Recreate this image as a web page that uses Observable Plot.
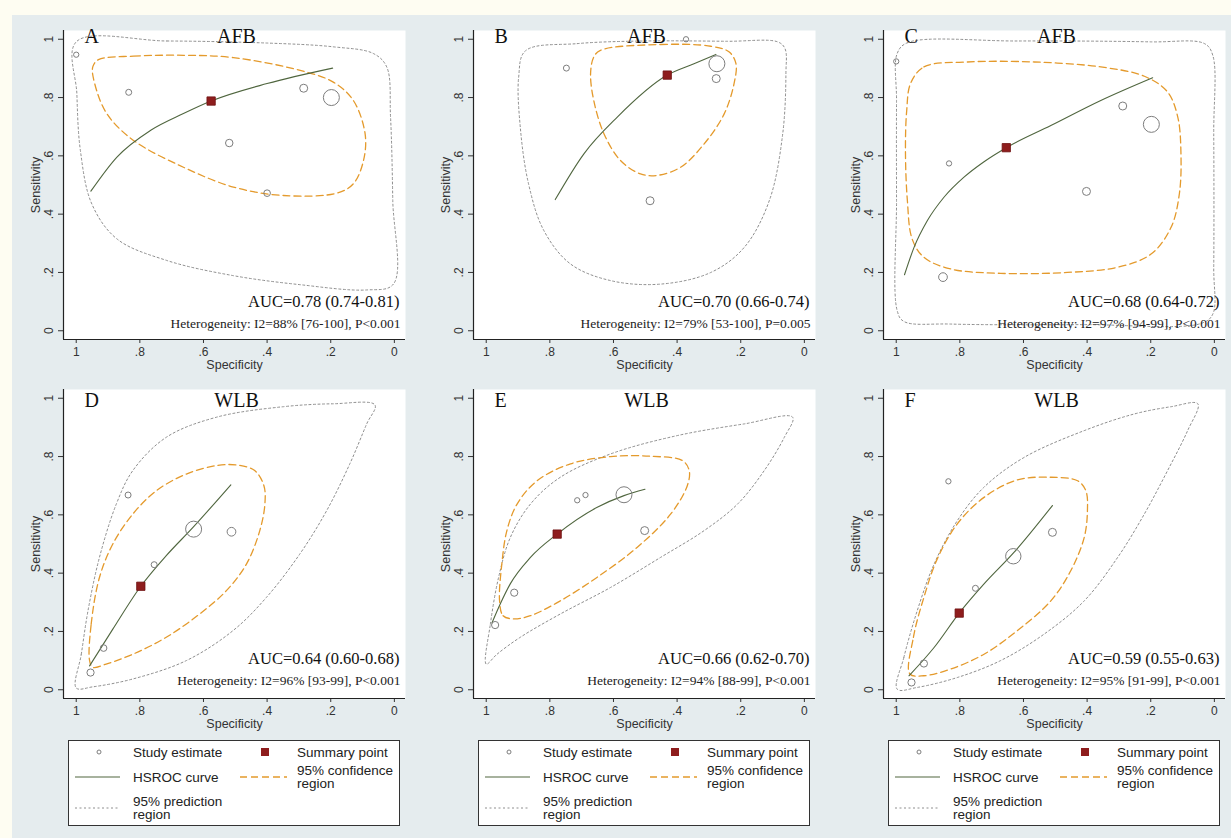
<!DOCTYPE html>
<html><head><meta charset="utf-8">
<script src="https://cdn.jsdelivr.net/npm/d3@7"></script>
<script src="https://cdn.jsdelivr.net/npm/@observablehq/plot@0.6"></script>
<style>
html,body{margin:0;padding:0;background:#fefdf2;}
#root{position:relative;width:1231px;height:838px;background:#fefdf2;overflow:hidden;}
#inner{position:absolute;left:12px;top:15px;right:0;bottom:0;background:#e5ecee;}
.panel{position:absolute;}
.legend{position:absolute;}
</style></head><body><div id="root"><div id="inner"></div></div>
<script>
// ---------- data: [specificity, sensitivity, weight] ----------
const panelLetters = ["A", "B", "C", "D", "E", "F"];
const panelTests = ["AFB", "AFB", "AFB", "WLB", "WLB", "WLB"];
const aucLabels = ["AUC=0.78 (0.74-0.81)", "AUC=0.70 (0.66-0.74)", "AUC=0.68 (0.64-0.72)",
                   "AUC=0.64 (0.60-0.68)", "AUC=0.66 (0.62-0.70)", "AUC=0.59 (0.55-0.63)"];
const hetLabels = ["Heterogeneity: I2=88% [76-100], P<0.001", "Heterogeneity: I2=79% [53-100], P=0.005",
                   "Heterogeneity: I2=97% [94-99], P<0.001", "Heterogeneity: I2=96% [93-99], P<0.001",
                   "Heterogeneity: I2=94% [88-99], P<0.001", "Heterogeneity: I2=95% [91-99], P<0.001"];
const tickValues = [0, 0.2, 0.4, 0.6, 0.8, 1];
const xAxisLabel = "Specificity";
const yAxisLabel = "Sensitivity";
const legendLabels = ["Study estimate", "Summary point", "HSROC curve", "95% confidence\nregion", "95% prediction\nregion"];

// Panel A
const studiesA = [[1.0,0.947,7],[0.835,0.818,9],[0.285,0.832,16],[0.198,0.80,64],[0.519,0.644,14],[0.40,0.472,11]];
const summaryA = [0.576,0.788];
const hsrocA = [[0.954,0.479],[0.872,0.596],[0.767,0.687],[0.663,0.745],[0.576,0.788],[0.40,0.848],[0.194,0.901]];
const confA = [[0.930,0.930],[0.820,0.942],[0.663,0.945],[0.506,0.937],[0.296,0.893],[0.192,0.853],[0.129,0.790],[0.092,0.676],[0.097,0.584],[0.129,0.504],[0.181,0.472],[0.349,0.464],[0.506,0.493],[0.663,0.561],[0.820,0.653],[0.904,0.745],[0.942,0.848],[0.948,0.905]];
const predA = [[1.0,0.991],[0.715,0.994],[0.401,0.987],[0.192,0.974],[0.066,0.951],[0.024,0.905],[0.012,0.733],[0.005,0.447],[0.003,0.160],[0.087,0.140],[0.296,0.158],[0.506,0.189],[0.715,0.241],[0.872,0.315],[0.951,0.435],[0.987,0.619],[0.998,0.813]];

// Panel B
const studiesB = [[0.748,0.901,9],[0.372,1.0,7],[0.275,0.916,64],[0.277,0.865,16],[0.485,0.446,16]];
const summaryB = [0.431,0.877];
const hsrocB = [[0.783,0.450],[0.693,0.607],[0.588,0.733],[0.431,0.877],[0.347,0.916],[0.278,0.948]];
const confB = [[0.641,0.962],[0.452,0.982],[0.294,0.976],[0.236,0.956],[0.215,0.916],[0.221,0.848],[0.252,0.744],[0.315,0.641],[0.389,0.561],[0.462,0.533],[0.515,0.538],[0.578,0.584],[0.630,0.676],[0.662,0.790],[0.672,0.882],[0.662,0.939]];
const predB = [[0.877,0.960],[0.714,0.985],[0.504,0.994],[0.242,0.993],[0.084,0.991],[0.061,0.968],[0.058,0.882],[0.068,0.676],[0.110,0.447],[0.189,0.286],[0.294,0.200],[0.452,0.160],[0.609,0.172],[0.735,0.229],[0.819,0.344],[0.867,0.504],[0.893,0.699],[0.898,0.871]];

// Panel C
const studiesC = [[1.0,0.924,7],[0.834,0.574,7],[0.853,0.184,19],[0.288,0.771,16],[0.198,0.708,64],[0.402,0.478,16]];
const summaryC = [0.654,0.628];
const hsrocC = [[0.974,0.192],[0.944,0.286],[0.902,0.378],[0.850,0.458],[0.787,0.527],[0.724,0.580],[0.654,0.628],[0.514,0.704],[0.357,0.790],[0.194,0.868]];
const confC = [[0.955,0.848],[0.913,0.905],[0.776,0.922],[0.567,0.922],[0.357,0.905],[0.220,0.873],[0.147,0.819],[0.115,0.733],[0.105,0.607],[0.110,0.470],[0.136,0.355],[0.199,0.263],[0.304,0.218],[0.462,0.200],[0.672,0.197],[0.829,0.212],[0.913,0.252],[0.950,0.315],[0.965,0.447],[0.971,0.619],[0.967,0.756]];
const predC = [[0.997,0.951],[0.965,0.988],[0.619,0.994],[0.199,0.991],[0.031,0.985],[0.005,0.945],[0.002,0.676],[0.002,0.218],[0.005,0.057],[0.042,0.025],[0.409,0.021],[0.829,0.023],[0.976,0.032],[0.997,0.069],[0.999,0.447],[0.999,0.790]];

// Panel D
const studiesD = [[0.837,0.668,9],[0.631,0.551,64],[0.512,0.542,19],[0.755,0.429,9],[0.914,0.143,11],[0.955,0.059,13]];
const summaryD = [0.797,0.355];
const hsrocD = [[0.958,0.082],[0.885,0.208],[0.797,0.355],[0.717,0.460],[0.633,0.557],[0.514,0.703]];
const confD = [[0.958,0.100],[0.953,0.225],[0.927,0.385],[0.885,0.500],[0.822,0.603],[0.748,0.683],[0.654,0.740],[0.559,0.769],[0.496,0.771],[0.439,0.752],[0.410,0.700],[0.407,0.637],[0.423,0.546],[0.465,0.431],[0.528,0.340],[0.612,0.260],[0.717,0.180],[0.822,0.122],[0.906,0.088],[0.948,0.077]];
const predD = [[1.0,0.006],[0.984,0.122],[0.963,0.271],[0.927,0.454],[0.874,0.637],[0.822,0.752],[0.717,0.866],[0.559,0.935],[0.349,0.971],[0.192,0.981],[0.061,0.977],[0.087,0.912],[0.140,0.775],[0.213,0.614],[0.297,0.466],[0.402,0.317],[0.507,0.203],[0.654,0.100],[0.822,0.037],[0.948,0.010]];

// Panel E
const studiesE = [[0.714,0.650,7],[0.688,0.668,7],[0.567,0.669,64],[0.502,0.546,16],[0.912,0.333,13],[0.972,0.222,13]];
const summaryE = [0.777,0.534];
const hsrocE = [[0.982,0.229],[0.956,0.294],[0.924,0.364],[0.861,0.454],[0.777,0.534],[0.651,0.626],[0.567,0.666],[0.501,0.688]];
const confE = [[0.958,0.305],[0.947,0.254],[0.914,0.243],[0.861,0.254],[0.767,0.305],[0.651,0.386],[0.525,0.489],[0.420,0.603],[0.368,0.700],[0.362,0.752],[0.383,0.786],[0.483,0.801],[0.609,0.800],[0.735,0.775],[0.840,0.717],[0.903,0.637],[0.935,0.546],[0.951,0.431]];
const predE = [[1.0,0.088],[0.987,0.225],[0.961,0.386],[0.924,0.523],[0.861,0.637],[0.767,0.729],[0.609,0.809],[0.399,0.872],[0.189,0.912],[0.037,0.935],[0.063,0.866],[0.126,0.752],[0.210,0.637],[0.315,0.546],[0.452,0.454],[0.609,0.351],[0.767,0.260],[0.893,0.180],[0.966,0.122]];

// Panel F
const studiesF = [[0.836,0.715,7],[0.509,0.540,16],[0.632,0.458,59],[0.751,0.348,9],[0.913,0.090,13],[0.952,0.025,13]];
const summaryF = [0.802,0.263];
const hsrocF = [[0.960,0.048],[0.881,0.145],[0.802,0.263],[0.724,0.363],[0.630,0.471],[0.509,0.632]];
const confF = [[0.957,0.054],[0.946,0.180],[0.913,0.317],[0.871,0.449],[0.808,0.569],[0.724,0.660],[0.619,0.720],[0.514,0.729],[0.430,0.717],[0.404,0.683],[0.399,0.614],[0.409,0.523],[0.451,0.409],[0.514,0.305],[0.619,0.203],[0.724,0.122],[0.829,0.071],[0.913,0.048]];
const predF = [[0.997,0.002],[0.976,0.111],[0.934,0.271],[0.881,0.431],[0.808,0.580],[0.724,0.695],[0.598,0.797],[0.409,0.889],[0.252,0.946],[0.136,0.971],[0.052,0.981],[0.084,0.889],[0.147,0.752],[0.220,0.603],[0.304,0.454],[0.409,0.305],[0.535,0.191],[0.672,0.100],[0.808,0.042],[0.934,0.008]];

// ---------- assemble ----------
const panels = [
  {studies: studiesA, summary: summaryA, hsroc: hsrocA, conf: confA, pred: predA},
  {studies: studiesB, summary: summaryB, hsroc: hsrocB, conf: confB, pred: predB},
  {studies: studiesC, summary: summaryC, hsroc: hsrocC, conf: confC, pred: predC},
  {studies: studiesD, summary: summaryD, hsroc: hsrocD, conf: confD, pred: predD},
  {studies: studiesE, summary: summaryE, hsroc: hsrocE, conf: confE, pred: predE},
  {studies: studiesF, summary: summaryF, hsroc: hsrocF, conf: confF, pred: predF}
].map((p, i) => ({...p, letter: panelLetters[i], test: panelTests[i], auc: aucLabels[i], het: hetLabels[i]}));

const COL = {pred: "#8e8e8e", conf: "#e49a2c", hsroc: "#50663f", study: "#7d7d7d", summary: "#8e1d1d"};
const SERIF = "'Liberation Serif','Times New Roman',serif";
const SANS = "'Liberation Sans',Arial,sans-serif";
const fmt = d => d === 0 ? "0" : d === 1 ? "1" : d3.format(".1f")(d).replace(/^0/, "");
const X0 = 1.04, X1 = -0.035, Y0 = -0.03, Y1 = 1.03;
const px = d => d[0], py = d => d[1];

function panelPlot(p, row) {
  const titleDy = row === 0 ? 12 : 17;
  return Plot.plot({
    width: 400, height: 355,
    marginLeft: 53, marginRight: 5, marginTop: 10, marginBottom: 36,
    style: {background: "transparent", fontFamily: SANS, fontSize: "12px", color: "#333", overflow: "visible"},
    x: {domain: [X0, X1]},
    y: {domain: [Y0, Y1]},
    r: {type: "sqrt", domain: [0, 64], range: [0, 8]},
    marks: [
      Plot.frame({fill: "white", stroke: "none"}),
      Plot.line(p.pred, {x: px, y: py, curve: "catmull-rom-closed", stroke: COL.pred, strokeWidth: 1, strokeDasharray: "2,2.5"}),
      Plot.line(p.conf, {x: px, y: py, curve: "catmull-rom-closed", stroke: COL.conf, strokeWidth: 1.3, strokeDasharray: "7,4"}),
      Plot.line(p.hsroc, {x: px, y: py, curve: "monotone-x", stroke: COL.hsroc, strokeWidth: 1.1}),
      Plot.dot(p.studies, {x: px, y: py, r: d => d[2], stroke: COL.study, fill: "none", strokeWidth: 1}),
      Plot.dot([p.summary], {x: px, y: py, symbol: "square", r: 4.7, fill: COL.summary, stroke: "#6e1212", strokeWidth: 0.8}),
      Plot.axisX({ticks: tickValues, tickFormat: fmt, tickSize: 4, tickPadding: 4, label: null}),
      Plot.axisY({ticks: tickValues, tickFormat: fmt, tickSize: 5, tickPadding: 6, tickRotate: -90, label: null}),
      Plot.ruleX([X0], {stroke: "#222", strokeWidth: 1.2}),
      Plot.ruleY([Y0], {stroke: "#222", strokeWidth: 1.2}),
      Plot.text([xAxisLabel], {text: d => d, frameAnchor: "bottom", dy: 25, lineAnchor: "middle", fontSize: 12.5, fill: "#333"}),
      Plot.text([yAxisLabel], {text: d => d, frameAnchor: "left", dx: -28, rotate: -90, lineAnchor: "middle", textAnchor: "middle", fontSize: 12.5, fill: "#333"}),
      Plot.text([p.letter], {text: d => d, frameAnchor: "top-left", dx: 21, dy: titleDy, textAnchor: "start", lineAnchor: "bottom", fontFamily: SERIF, fontSize: 20, fill: "#111"}),
      Plot.text([p.test], {text: d => d, frameAnchor: "top", dx: 2, dy: titleDy, textAnchor: "middle", lineAnchor: "bottom", fontFamily: SERIF, fontSize: 20, fill: "#111"}),
      Plot.text([p.auc], {text: d => d, frameAnchor: "bottom-right", dx: -6, dy: row === 0 ? -33 : -35, textAnchor: "end", lineAnchor: "bottom", fontFamily: SERIF, fontSize: 16.5, fill: "#111"}),
      Plot.text([p.het], {text: d => d, frameAnchor: "bottom-right", dx: -5, dy: row === 0 ? -12 : -14, textAnchor: "end", lineAnchor: "bottom", fontFamily: SERIF, fontSize: 13.5, fill: "#222"})
    ]
  });
}

function legendSvg() {
  const w = 332, h = 86;
  const svg = d3.create("svg").attr("width", w).attr("height", h)
    .style("font-family", SANS).style("font-size", "13.5px");
  svg.append("rect").attr("x", 0.5).attr("y", 0.5).attr("width", w - 1).attr("height", h - 1)
    .attr("fill", "white").attr("stroke", "#333");
  svg.append("circle").attr("cx", 31).attr("cy", 12).attr("r", 2).attr("fill", "none").attr("stroke", COL.study);
  svg.append("rect").attr("x", 193).attr("y", 8).attr("width", 8).attr("height", 8).attr("fill", COL.summary);
  svg.append("line").attr("x1", 7).attr("x2", 52).attr("y1", 37).attr("y2", 37).attr("stroke", COL.hsroc).attr("stroke-width", 1.1);
  svg.append("line").attr("x1", 172).attr("x2", 219).attr("y1", 37).attr("y2", 37).attr("stroke", COL.conf).attr("stroke-width", 1.3).attr("stroke-dasharray", "7,4");
  svg.append("line").attr("x1", 7).attr("x2", 52).attr("y1", 68).attr("y2", 68).attr("stroke", COL.pred).attr("stroke-dasharray", "2,2.5");
  const items = [
    {t: legendLabels[0], x: 65, y: 12},
    {t: legendLabels[1], x: 229, y: 12},
    {t: legendLabels[2], x: 65, y: 37},
    {t: legendLabels[3], x: 229, y: 30},
    {t: legendLabels[4], x: 65, y: 61}
  ];
  for (const it of items) {
    const lines = it.t.split("\n");
    lines.forEach((ln, k) => {
      svg.append("text").attr("x", it.x).attr("y", it.y + k * 13).attr("dy", "0.35em")
        .attr("fill", "#222").text(ln);
    });
  }
  return svg.node();
}

const root = document.getElementById("root");
panels.forEach((p, i) => {
  const row = Math.floor(i / 3), col = i % 3;
  const axisX = 63 + 410 * col;
  const top = row === 0 ? 20 : 379;
  const div = document.createElement("div");
  div.className = "panel";
  div.style.left = (axisX - 53) + "px";
  div.style.top = top + "px";
  div.appendChild(panelPlot(p, row));
  root.appendChild(div);
  if (row === 1) {
    const lg = document.createElement("div");
    lg.className = "legend";
    lg.style.left = (68 + 410 * col) + "px";
    lg.style.top = "740px";
    lg.appendChild(legendSvg());
    root.appendChild(lg);
  }
});
</script>
</body></html>
